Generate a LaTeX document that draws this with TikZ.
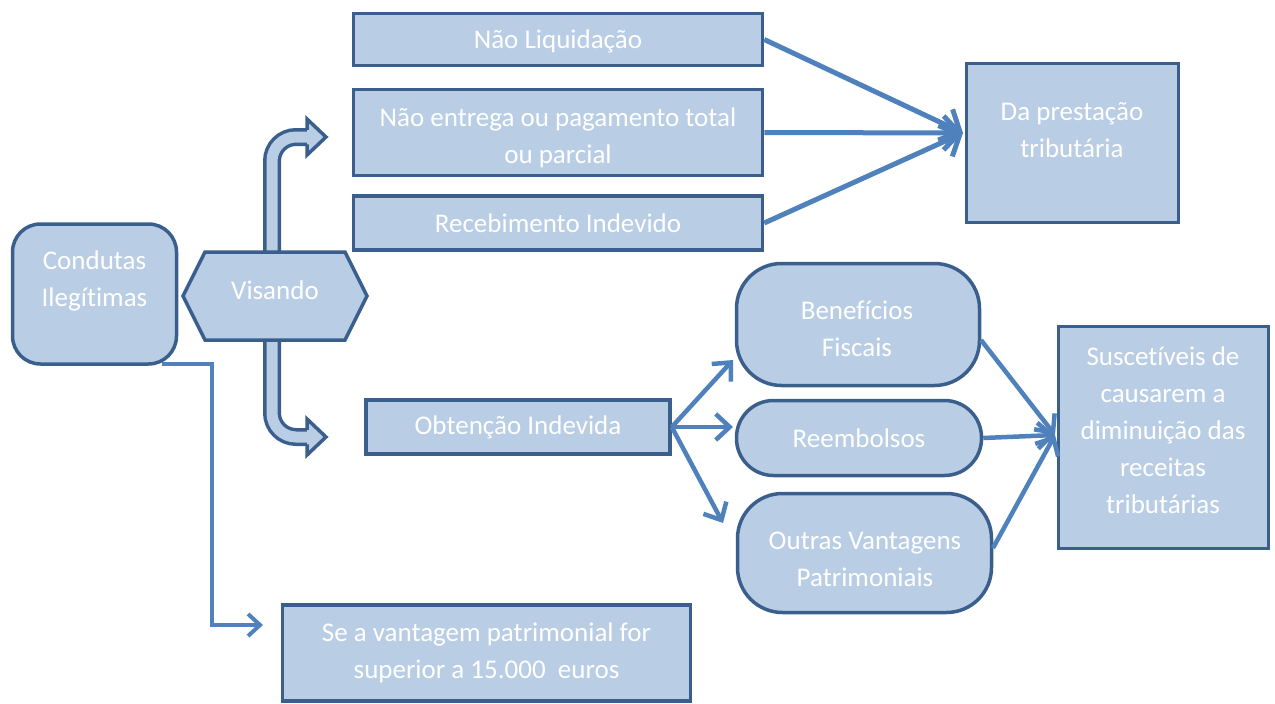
\documentclass[tikz,border=0pt]{standalone}
\usepackage{fontspec}
\setmainfont[Ligatures=NoCommon]{Carlito}
\usetikzlibrary{arrows.meta}
\definecolor{bfill}{HTML}{B9CDE5}
\definecolor{bdraw}{HTML}{3A5F8D}
\definecolor{arr}{HTML}{4F81BD}
\begin{document}
\begin{tikzpicture}[x=1pt,y=-1pt,
  box/.style={draw=bdraw, fill=bfill, line width=3.5pt, inner sep=0pt},
  txt/.style={text=white, font=\fontsize{27}{37}\selectfont, align=center, inner sep=0pt},
  tbox/.style={box, txt},
  bigarr/.style={draw=arr, line width=5pt, -{Straight Barb[length=16pt,width=34pt]}},
  midarr/.style={draw=arr, line width=4.5pt, -{Straight Barb[length=14pt,width=26pt]}},
  thinarr/.style={draw=arr, line width=4pt, -{Straight Barb[length=12pt,width=22pt]}},
  shaft/.style={draw=bdraw, line width=3.5pt, double=bfill, double distance=11pt, rounded corners=24pt},
  ahead/.style={draw=bdraw, line width=3.5pt, line join=miter}
]
\useasboundingbox (0,0) rectangle (1275,704);

% bracket arrows from Visando
\draw[shaft] (272,262) |- (309,137);
\draw[shaft] (272,330) |- (309,437);
\fill[bfill] (307,119) -- (326,137) -- (307,155) -- cycle;
\draw[ahead] (307,129.75) -- (307,119) -- (326,137) -- (307,155) -- (307,144.25);
\fill[bfill] (307,419) -- (326,437) -- (307,455) -- cycle;
\draw[ahead] (307,429.75) -- (307,419) -- (326,437) -- (307,455) -- (307,444.25);

% Visando hexagon
\filldraw[box] (183,296) -- (205,252) -- (345,252) -- (367,296) -- (345,340) -- (205,340) -- cycle;
\node[txt] (vis) at (275,290) {Visando};

% Condutas
\node[box, rounded corners=28pt, minimum width=164pt, minimum height=140pt] (cond) at (94.5,294) {};
\node[txt] (condt) at (94.5,281) {Condutas\\Ilegítimas};

% top boxes
\node[box, minimum width=409pt, minimum height=52pt] (nl) at (558,39.5) {};
\node[txt] (nlt) at (558,41) {Não Liquidação};
\node[box, minimum width=409pt, minimum height=86pt] (ne) at (558,132.5) {};
\node[txt] (net) at (558,138) {Não entrega ou pagamento total\\ou parcial};
\node[tbox, minimum width=409pt, minimum height=54pt] (rb) at (558,223) {Recebimento Indevido};

\node[box, minimum width=212pt, minimum height=159pt] (dp) at (1072.5,143) {};
\node[txt] (dpt) at (1072,130) {Da prestação\\tributária};

% middle
\node[tbox, minimum width=304pt, minimum height=54pt] (ob) at (518,427) {Obtenção Indevida};
\node[box, rounded corners=45pt, minimum width=243pt, minimum height=122pt] (ben) at (858,324.5) {};
\node[txt] (bent) at (857,329) {Benefícios\\Fiscais};
\node[tbox, rounded corners=37pt, minimum width=245pt, minimum height=75pt] (re) at (859,438) {Reembolsos};
\node[box, rounded corners=45pt, minimum width=254pt, minimum height=119pt] (ou) at (864.5,553) {};
\node[txt] (out) at (865,559) {Outras Vantagens\\Patrimoniais};

\node[box, minimum width=210pt, minimum height=222pt] (su) at (1163.5,437.5) {};
\node[txt] (sut) at (1163,430) {Suscetíveis de\\causarem a\\diminuição das\\receitas\\tributárias};

\node[tbox, minimum width=408pt, minimum height=96pt] (se) at (486.5,653) {Se a vantagem patrimonial for\\superior a 15.000\ \ euros};

% connectors
\coordinate (dpin) at (963,133);
\draw[bigarr] (nl.east) -- (dpin);
\draw[bigarr] (ne.east) -- (dpin);
\draw[bigarr] (rb.east) -- (dpin);

\coordinate (ob1) at (733,360);
\coordinate (ob2) at (733,427);
\coordinate (ob3) at (723,523);
\draw[midarr] (ob.east) -- (ob1);
\draw[midarr] (ob.east) -- (ob2);
\draw[midarr] (ob.east) -- (ob3);

\coordinate (suin) at (1055,435);
\coordinate (ben1) at (981,340);
\coordinate (ou1) at (993,548);
\draw[midarr] (ben1) -- (suin);
\draw[midarr] (re.east) -- (suin);
\draw[midarr] (ou1) -- (suin);

\coordinate (c1) at (162,364);
\coordinate (c2) at (263,625);
\draw[thinarr] (c1) -- (212,364) |- (c2);
\end{tikzpicture}
\end{document}
